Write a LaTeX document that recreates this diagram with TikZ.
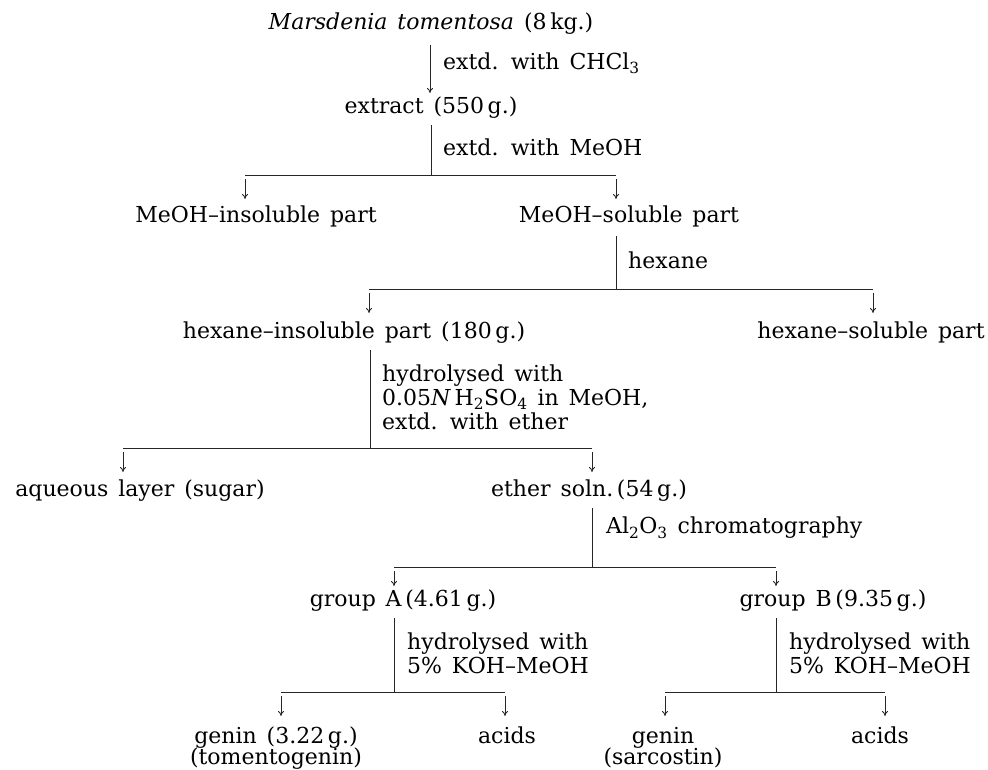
\documentclass[tikz,border=0pt]{standalone}
\usepackage{fontspec}
\setmainfont{DejaVu Serif}
\usetikzlibrary{arrows.meta}
\newcommand{\mysz}{\fontsize{22}{24}\selectfont\spaceskip=0.45em plus 0.1em}
\tikzset{
  txt/.style={inner sep=0pt, font=\mysz, text height=15pt, text depth=5pt},
  lbl/.style={inner sep=0pt, font=\mysz, anchor=west, align=left},
  ln/.style={line width=0.8pt, black!85},
  arr/.style={line width=0.8pt, black!85, -{To[length=5pt,width=6pt]}}
}
\begin{document}
\begin{tikzpicture}[x=1pt,y=-1pt]
\useasboundingbox (0,0) rectangle (988,769);
% level 0
\node[txt] (m) at (431,24) {\textit{Marsdenia tomentosa} (8\,kg.)};
\coordinate (a1s) at (430,45);
\coordinate (a1e) at (430,93);
\draw[arr] (a1s) -- (a1e);
\node[lbl] (l1) at (443,63) {extd. with CHCl\textsubscript{3}};
% level 1
\node[txt] (ext) at (431,108) {extract (550\,g.)};
\coordinate (v2s) at (431,125);
\coordinate (v2e) at (431,175);
\draw[ln] (v2s) -- (v2e);
\node[lbl] (l2) at (443,147) {extd. with MeOH};
\coordinate (h2l) at (245,175);
\coordinate (h2r) at (616,175);
\draw[ln] (h2l) -- (h2r);
\coordinate (a2ls) at (245,179); \coordinate (a2le) at (245,199);
\coordinate (a2rs) at (616,179); \coordinate (a2re) at (616,199);
\draw[arr] (a2ls) -- (a2le);
\draw[arr] (a2rs) -- (a2re);
\node[txt] (mi) at (256,217) {MeOH--insoluble part};
\node[txt] (ms) at (629,217) {MeOH--soluble part};
% level 2
\coordinate (v3s) at (616,236);
\coordinate (v3e) at (616,289);
\draw[ln] (v3s) -- (v3e);
\node[lbl] (l3) at (628,260) {hexane};
\coordinate (h3l) at (369,289);
\coordinate (h3r) at (873,289);
\draw[ln] (h3l) -- (h3r);
\coordinate (a3ls) at (369,293); \coordinate (a3le) at (369,313);
\coordinate (a3rs) at (873,293); \coordinate (a3re) at (873,313);
\draw[arr] (a3ls) -- (a3le);
\draw[arr] (a3rs) -- (a3re);
\node[txt] (hi) at (354,333) {hexane--insoluble part (180\,g.)};
\node[txt] (hs) at (871,333) {hexane--soluble part};
% level 3
\coordinate (v4s) at (370,350);
\coordinate (v4e) at (370,448);
\draw[ln] (v4s) -- (v4e);
\node[lbl] (l4) at (382,397) {hydrolysed with\\0.05\textit{N}\,H\textsubscript{2}SO\textsubscript{4} in MeOH,\\extd. with ether};
\coordinate (h4l) at (123,448);
\coordinate (h4r) at (592,448);
\draw[ln] (h4l) -- (h4r);
\coordinate (a4ls) at (123,452); \coordinate (a4le) at (123,472);
\coordinate (a4rs) at (592,452); \coordinate (a4re) at (592,472);
\draw[arr] (a4ls) -- (a4le);
\draw[arr] (a4rs) -- (a4re);
\node[txt] (aq) at (140,491) {aqueous layer (sugar)};
\node[txt] (et) at (589,491) {ether soln.\,(54\,g.)};
% level 4
\coordinate (v5s) at (592,508);
\coordinate (v5e) at (592,567);
\draw[ln] (v5s) -- (v5e);
\node[lbl] (l5) at (606,528) {Al\textsubscript{2}O\textsubscript{3} chromatography};
\coordinate (h5l) at (394,567);
\coordinate (h5r) at (776,567);
\draw[ln] (h5l) -- (h5r);
\coordinate (a5ls) at (394,571); \coordinate (a5le) at (394,586);
\coordinate (a5rs) at (776,571); \coordinate (a5re) at (776,586);
\draw[arr] (a5ls) -- (a5le);
\draw[arr] (a5rs) -- (a5re);
\node[txt] (ga) at (403,601) {group A\,(4.61\,g.)};
\node[txt] (gb) at (833,601) {group B\,(9.35\,g.)};
% level 5 left
\coordinate (v6s) at (394,618);
\coordinate (v6e) at (394,692);
\draw[ln] (v6s) -- (v6e);
\node[lbl] (l6) at (407,653) {hydrolysed with\\5\% KOH--MeOH};
\coordinate (h6l) at (281,692);
\coordinate (h6r) at (505,692);
\draw[ln] (h6l) -- (h6r);
\coordinate (a6ls) at (281,696); \coordinate (a6le) at (281,716);
\coordinate (a6rs) at (505,696); \coordinate (a6re) at (505,716);
\draw[arr] (a6ls) -- (a6le);
\draw[arr] (a6rs) -- (a6re);
\node[txt] (gna) at (276,738) {genin (3.22\,g.)};
\node[txt] (gna2) at (276,759) {(tomentogenin)};
\node[txt] (aca) at (507,738) {acids};
% level 5 right
\coordinate (v7s) at (776,618);
\coordinate (v7e) at (776,692);
\draw[ln] (v7s) -- (v7e);
\node[lbl] (l7) at (789,653) {hydrolysed with\\5\% KOH--MeOH};
\coordinate (h7l) at (665,692);
\coordinate (h7r) at (885,692);
\draw[ln] (h7l) -- (h7r);
\coordinate (a7ls) at (665,696); \coordinate (a7le) at (665,716);
\coordinate (a7rs) at (885,696); \coordinate (a7re) at (885,716);
\draw[arr] (a7ls) -- (a7le);
\draw[arr] (a7rs) -- (a7re);
\node[txt] (gnb) at (663,738) {genin};
\node[txt] (gnb2) at (663,759) {(sarcostin)};
\node[txt] (acb) at (880,738) {acids};
\end{tikzpicture}
\end{document}
